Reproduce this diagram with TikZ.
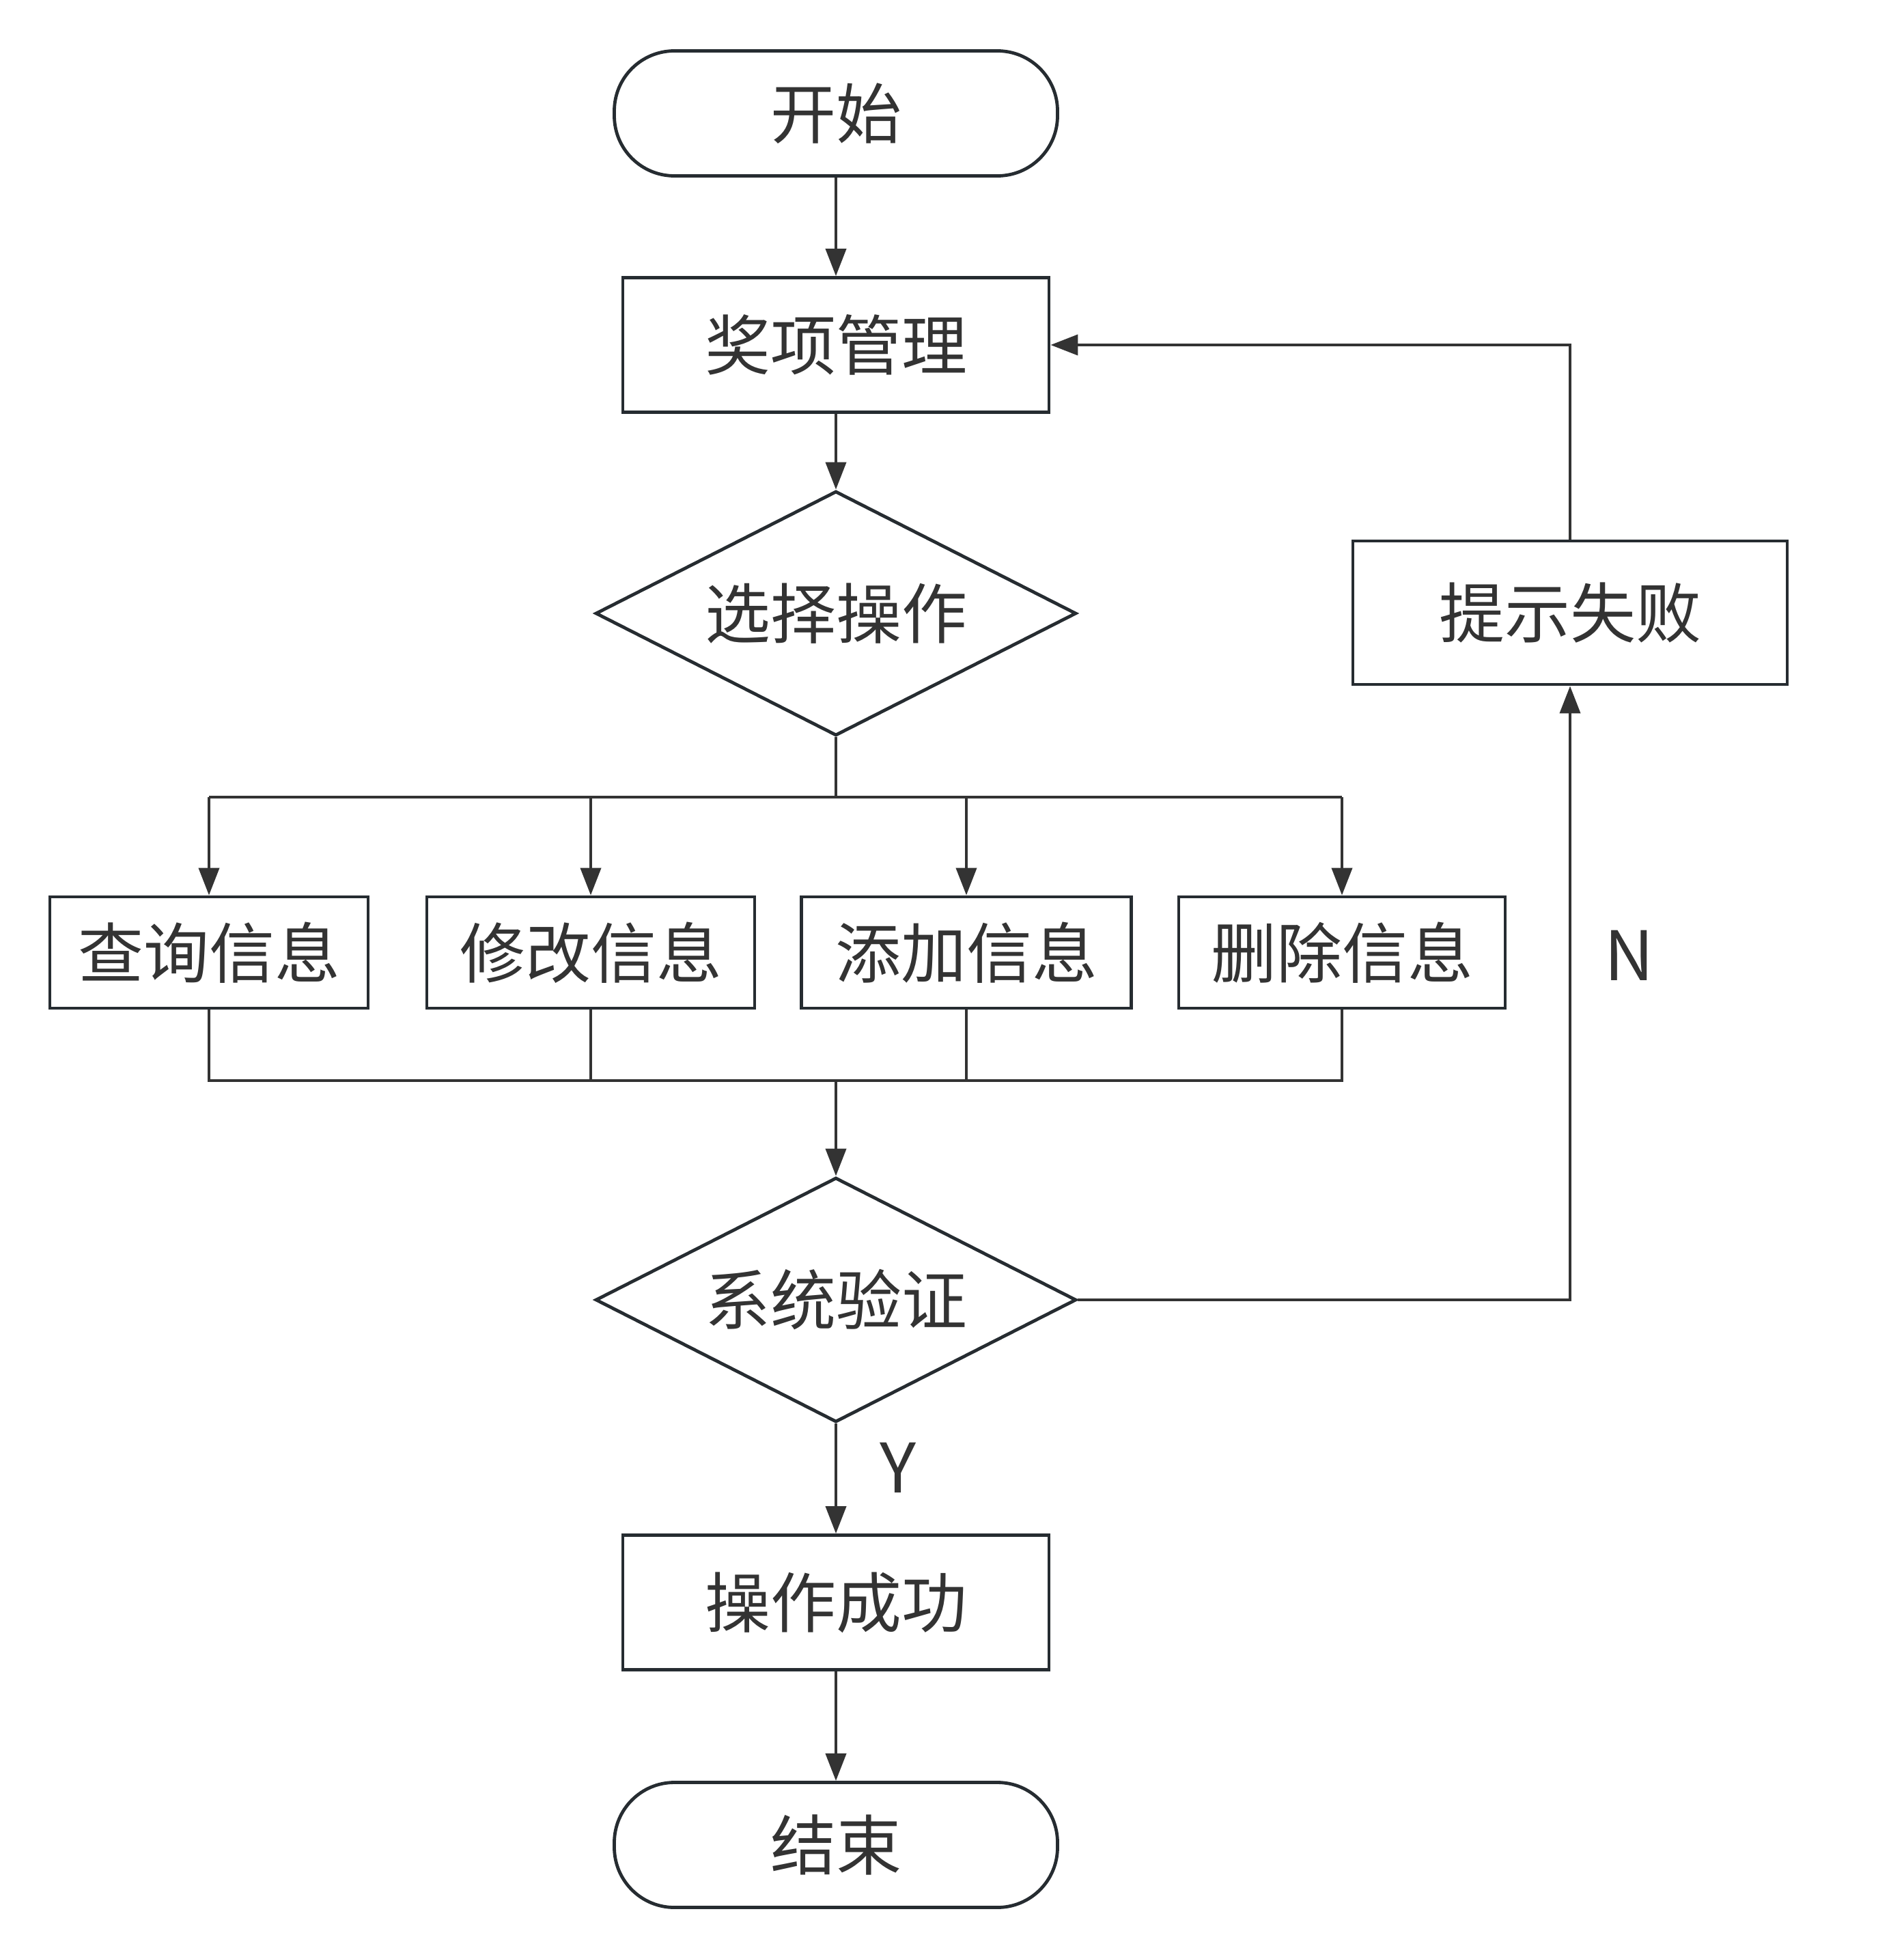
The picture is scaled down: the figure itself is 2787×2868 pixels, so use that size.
\documentclass[tikz,border=0pt]{standalone}
\usepackage{fontspec}
\setmainfont{Liberation Sans}
\newfontfamily\cjk{Noto Sans CJK SC}
\usetikzlibrary{shapes.geometric,arrows.meta}
\definecolor{lc}{HTML}{333333}
\definecolor{bc}{HTML}{262C31}
\begin{document}
\begin{tikzpicture}[x=0.25pt,y=-0.25pt,
  base/.style={draw=bc, line width=1.2pt, text=lc, font=\cjk\fontsize{24}{28}\selectfont, inner sep=0pt},
  term/.style={base, rounded corners=22pt, minimum width=162.25pt, minimum height=45.75pt},
  proc/.style={base, rectangle, minimum width=156pt, minimum height=49.25pt},
  opbox/.style={base, rectangle, minimum height=40.75pt},
  dec/.style={base, diamond, aspect=2, minimum width=176pt, minimum height=89.5pt},
  lbl/.style={text=lc, font=\cjk\fontsize{25}{30}\selectfont, inner sep=0pt},
  conn/.style={draw=lc, line width=1pt},
  arr/.style={conn, -{Triangle[length=10pt,width=7.5pt]}},
]
\useasboundingbox (0,0) rectangle (2787,2868);
\node[term] (start) at (1224,166) {开始};
\node[proc] (mgmt) at (1224,505) {奖项管理};
\node[dec] (sel) at (1224,898) {选择操作};
\node[proc, minimum width=159pt, minimum height=52.5pt] (fail) at (2299,897) {提示失败};
\node[opbox, minimum width=116.5pt] (q) at (306,1394.5) {查询信息};
\node[opbox, minimum width=120pt] (m) at (865,1394.5) {修改信息};
\node[opbox, minimum width=120.75pt] (a) at (1415,1394.5) {添加信息};
\node[opbox, minimum width=119.5pt] (d) at (1965,1394.5) {删除信息};
\node[dec] (ver) at (1224,1903) {系统验证};
\node[proc] (ok) at (1224,2346) {操作成功};
\node[term] (end) at (1224,2701) {结束};
\node[lbl] (ylab) at (1315,2149) {Y};
\node[lbl] (nlab) at (2386,1399) {N};
\coordinate (br) at (1224,1167);
\coordinate (mg) at (1224,1582);

\draw[arr] (start) -- (mgmt);
\draw[arr] (mgmt) -- (sel);
\draw[conn] (sel.south) -- (br);
\draw[conn] (q.north |- br) -- (d.north |- br);
\draw[arr] (q.north |- br) -- (q.north);
\draw[arr] (m.north |- br) -- (m.north);
\draw[arr] (a.north |- br) -- (a.north);
\draw[arr] (d.north |- br) -- (d.north);
\draw[conn] (q.south) -- (q.south |- mg) -- (d.south |- mg) -- (d.south);
\draw[conn] (m.south) -- (m.south |- mg);
\draw[conn] (a.south) -- (a.south |- mg);
\draw[arr] (mg) -- (ver.north);
\draw[arr] (ver.south) -- (ok.north);
\draw[arr] (ver.east) -| (fail.south);
\draw[arr] (fail.north) |- (mgmt.east);
\draw[arr] (ok) -- (end);
\end{tikzpicture}
\end{document}
